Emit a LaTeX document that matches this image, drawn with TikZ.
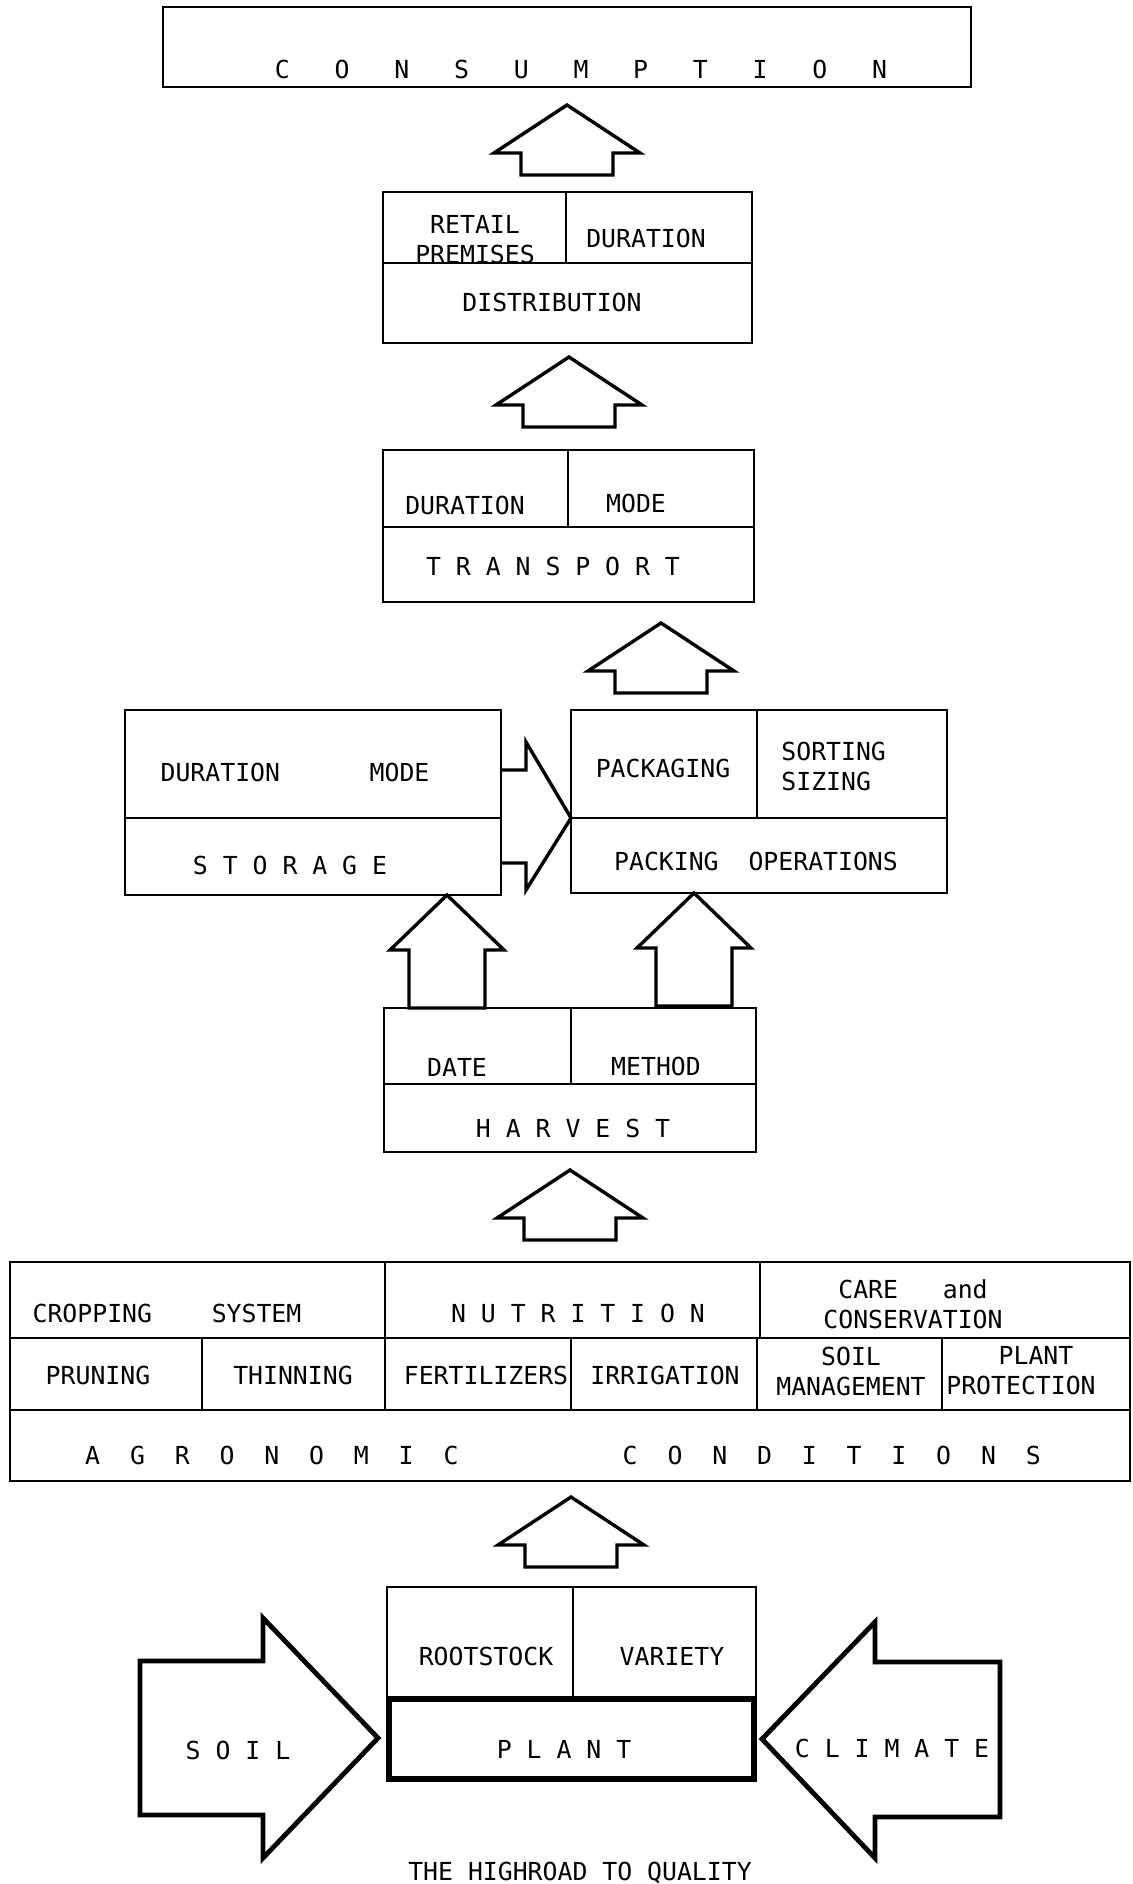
\documentclass[tikz,border=0pt]{standalone}
\usepackage{fontspec}
\setmainfont{DejaVu Sans Mono}
\newcommand{\chartfont}{\fontsize{12.4pt}{15pt}\selectfont}

\begin{document}
\begin{tikzpicture}[x=0.5pt, y=-0.5pt]
    \tikzstyle{box frame} = [draw=black, line width=1.4pt]
    \tikzstyle{box divider} = [draw=black, line width=1pt]
    \tikzstyle{box text} = [inner sep=0pt, font=\chartfont, align=center]
    \tikzstyle{block arrow} = [draw=black, line width=1.7pt, line join=miter]
    \tikzstyle{side arrow} = [block arrow, line width=2.4pt]
    \tikzset{
        up arrow/.pic={\draw[block arrow] (-46,0) -- (-46,-22) -- (-73,-22) -- (0,-70) -- (73,-22) -- (46,-22) -- (46,0) -- cycle;},
        tall arrow/.pic={\draw[block arrow] (-38,0) -- (-38,-58) -- (-57,-58) -- (0,-113) -- (57,-58) -- (38,-58) -- (38,0) -- cycle;}
    }
\useasboundingbox (0,0) rectangle (1133,1884);
% consumption
\draw[box frame] (163,7) rectangle (971,87);
\node[box text] (consumption) at (581,69) {C~~~O~~~N~~~S~~~U~~~M~~~P~~~T~~~I~~~O~~~N};
% distribution
\draw[box frame] (383,192) rectangle (752,343);
\draw[box divider] (383,263) -- (752,263);
\draw[box divider] (566,192) -- (566,263);
\node[box text] (retail) at (475,240) {RETAIL\\PREMISES};
\node[box text] (distduration) at (646,238) {DURATION};
\node[box text] (distribution) at (552,302) {DISTRIBUTION};
% transport
\draw[box frame] (383,450) rectangle (754,602);
\draw[box divider] (383,527) -- (754,527);
\draw[box divider] (568,450) -- (568,527);
\node[box text] (transduration) at (465,505) {DURATION};
\node[box text] (transmode) at (636,503) {MODE};
\node[box text] (transport) at (553,566) {T~R~A~N~S~P~O~R~T};
% storage
\draw[box frame] (125,710) rectangle (501,895);
\draw[box divider] (125,818) -- (501,818);
\node[box text] (storeduration) at (295,772) {DURATION~~~~~~MODE};
\node[box text] (storage) at (290,865) {S~T~O~R~A~G~E};
% packing
\draw[box frame] (571,710) rectangle (947,893);
\draw[box divider] (571,818) -- (947,818);
\draw[box divider] (757,710) -- (757,818);
\node[box text] (packaging) at (663,768) {PACKAGING};
\node[box text, align=left, anchor=west] (sorting) at (781,766) {SORTING\\SIZING};
\node[box text] (packing) at (756,861) {PACKING~~OPERATIONS};
\draw[block arrow] (500,770) -- (526,770) -- (526,742) -- (571,818) -- (526,890) -- (526,863) -- (500,863);
% harvest
\draw[box frame] (384,1008) rectangle (756,1152);
\draw[box divider] (384,1084) -- (756,1084);
\draw[box divider] (571,1008) -- (571,1084);
\node[box text] (date) at (457,1067) {DATE};
\node[box text] (method) at (656,1066) {METHOD};
\node[box text] (harvest) at (573,1128) {H~A~R~V~E~S~T};
% agronomic conditions
\draw[box frame] (10,1262) rectangle (1130,1481);
\draw[box divider] (10,1338) -- (1130,1338);
\draw[box divider] (10,1410) -- (1130,1410);
\draw[box divider] (385,1262) -- (385,1338);
\draw[box divider] (760,1262) -- (760,1338);
\draw[box divider] (202,1338) -- (202,1410);
\draw[box divider] (385,1338) -- (385,1410);
\draw[box divider] (571,1338) -- (571,1410);
\draw[box divider] (757,1338) -- (757,1410);
\draw[box divider] (942,1338) -- (942,1410);
\node[box text] (cropping) at (167,1313) {CROPPING~~~~SYSTEM};
\node[box text] (nutrition) at (578,1313) {N~U~T~R~I~T~I~O~N};
\node[box text] (care) at (913,1304) {CARE~~~and\\CONSERVATION};
\node[box text] (pruning) at (98,1375) {PRUNING};
\node[box text] (thinning) at (293,1375) {THINNING};
\node[box text] (fertilizers) at (486,1375) {FERTILIZERS};
\node[box text] (irrigation) at (665,1375) {IRRIGATION};
\node[box text] (soilmgmt) at (851,1371) {SOIL\\MANAGEMENT};
\node[box text] (plantprot) at (1021,1371) {\hspace*{15pt}PLANT\\PROTECTION};
\node[box text] (agronomic) at (563,1455) {A~~G~~R~~O~~N~~O~~M~~I~~C~~~~~~~~~~~C~~O~~N~~D~~I~~T~~I~~O~~N~~S};
% plant
\draw[box frame] (387,1587) rectangle (756,1698);
\draw[box divider] (573,1587) -- (573,1698);
\draw[line width=3pt] (389,1699) rectangle (754,1779);
\node[box text] (rootstock) at (486,1656) {ROOTSTOCK};
\node[box text] (variety) at (672,1656) {VARIETY};
\node[box text] (plant) at (564,1749) {P~L~A~N~T};
\draw[side arrow] (140,1661) -- (263,1661) -- (263,1618) -- (378,1738) -- (263,1858) -- (263,1815) -- (140,1815) -- cycle;
\draw[side arrow] (762,1739) -- (875,1622) -- (875,1662) -- (1000,1662) -- (1000,1817) -- (875,1817) -- (875,1858) -- cycle;
\node[box text] (soil) at (238,1750) {S~O~I~L};
\node[box text] (climate) at (892,1748) {C~L~I~M~A~T~E};
\node[box text] (title) at (580,1873) {THE HIGHROAD TO QUALITY};
% block arrows
\coordinate (up1) at (567,175);
\coordinate (up2) at (569,427);
\coordinate (up3) at (661,693);
\coordinate (up4) at (447,1008);
\coordinate (up5) at (694,1006);
\coordinate (up6) at (570,1240);
\coordinate (up7) at (571,1567);
\pic at (up1) {up arrow};
\pic at (up2) {up arrow};
\pic at (up3) {up arrow};
\pic at (up4) {tall arrow};
\pic at (up5) {tall arrow};
\pic at (up6) {up arrow};
\pic at (up7) {up arrow};
\end{tikzpicture}
\end{document}
